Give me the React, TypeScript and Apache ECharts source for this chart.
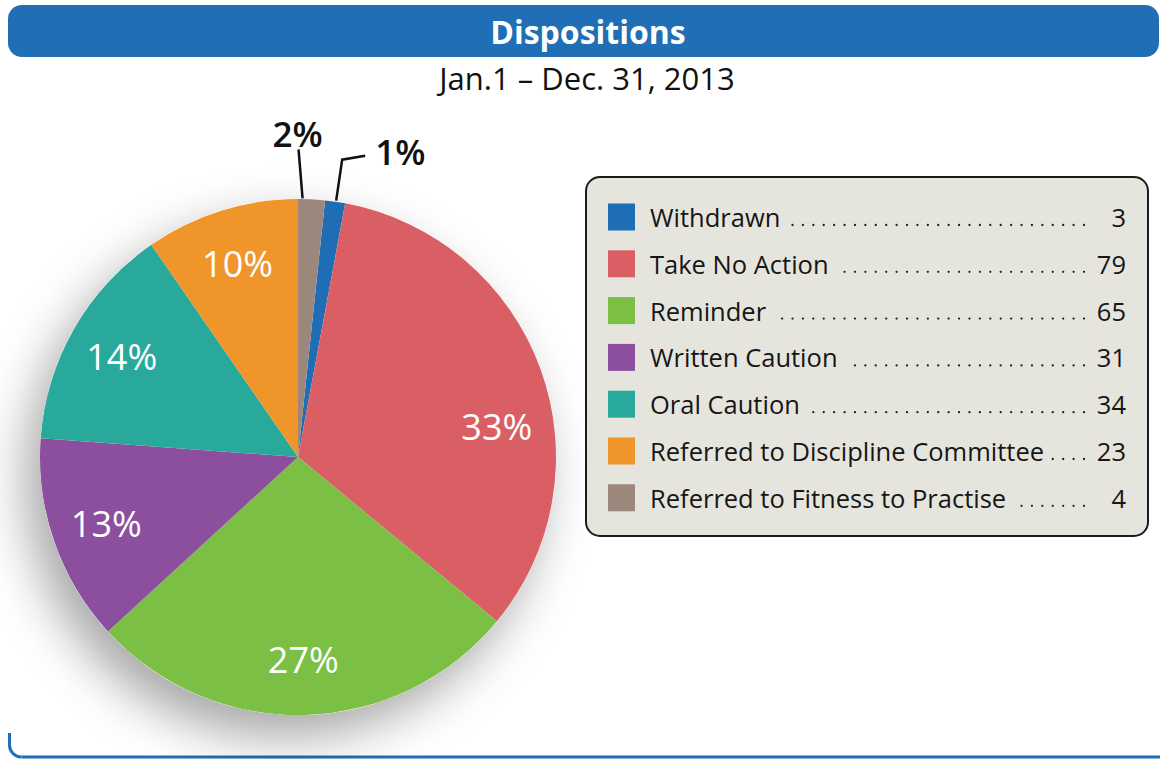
import React, { useEffect, useRef } from "react";
import * as echarts from "echarts";

const title = "Dispositions";
const subtitle = "Jan.1 – Dec. 31, 2013";
const categories = [
  "Withdrawn",
  "Take No Action",
  "Reminder",
  "Written Caution",
  "Oral Caution",
  "Referred to Discipline Committee",
  "Referred to Fitness to Practise",
];
const counts = [3, 79, 65, 31, 34, 23, 4];
const colors = ["#1f6db5", "#d95f65", "#7bc045", "#8b4f9e", "#29a99c", "#f0952a", "#9b877b"];

const FONT = "'Open Sans', Lato, sans-serif";

function measure(text: string, font: string): number {
  const c = document.createElement("canvas").getContext("2d");
  if (!c) return text.length * 12;
  c.font = font;
  return c.measureText(text).width;
}

export default function App() {
  const ref = useRef<HTMLDivElement>(null);
  useEffect(() => {
    if (!ref.current) return;
    const chart = echarts.init(ref.current, null, { renderer: "svg" });
    const total = counts.reduce((a, b) => a + b, 0);
    const startAngle = 90 - (360 * counts[counts.length - 1]) / total;
    const center = [298, 457];
    const R = 258;

    const legendFontSize = 25.5;
    const legendFont = `${legendFontSize}px ${FONT}`;
    const rowY0 = 217;
    const rowStep = 46.8;
    const graphics: any[] = [
      {
        type: "rect",
        shape: { x: 8, y: 5, width: 1151, height: 52, r: 14 },
        style: { fill: "#206eb6" },
      },
      {
        type: "text",
        x: 588,
        y: 31,
        style: {
          text: title,
          fill: "#fff",
          font: `bold 32px ${FONT}`,
          align: "center",
          verticalAlign: "middle",
        },
      },
      {
        type: "text",
        x: 587,
        y: 78,
        style: {
          text: subtitle,
          fill: "#111",
          font: `31px ${FONT}`,
          align: "center",
          verticalAlign: "middle",
        },
      },
      {
        type: "rect",
        shape: { x: 586, y: 177, width: 562, height: 359, r: 14 },
        style: { fill: "#e6e5dd", stroke: "#1b1b1b", lineWidth: 2 },
      },
      {
        type: "line",
        shape: { x1: 9.5, y1: 733, x2: 9.5, y2: 745 },
        style: { stroke: "#206eb6", lineWidth: 3 },
      },
      {
        type: "arc",
        shape: { cx: 21.5, cy: 745, r: 12, startAngle: Math.PI / 2, endAngle: Math.PI, clockwise: true },
        style: { stroke: "#206eb6", lineWidth: 3, fill: "none" },
      },
      {
        type: "line",
        shape: { x1: 21.5, y1: 757, x2: 1160, y2: 757 },
        style: { stroke: "#206eb6", lineWidth: 3 },
      },
    ];

    categories.forEach((name, i) => {
      const cy = rowY0 + i * rowStep;
      const tw = measure(name, legendFont);
      graphics.push(
        {
          type: "rect",
          shape: { x: 608, y: cy - 13.5, width: 27, height: 27 },
          style: { fill: colors[i] },
        },
        {
          type: "text",
          x: 650,
          y: cy,
          style: {
            text: name,
            fill: "#161616",
            font: legendFont,
            align: "left",
            verticalAlign: "middle",
          },
        },
        {
          type: "text",
          x: 1126,
          y: cy,
          style: {
            text: String(counts[i]),
            fill: "#161616",
            font: legendFont,
            align: "right",
            verticalAlign: "middle",
          },
        },
        {
          type: "line",
          shape: { x1: 1084, y1: cy + 8, x2: 650 + tw + 8, y2: cy + 8 },
          style: { stroke: "#222", lineWidth: 2.3, lineDash: [0.01, 10.4], lineCap: "round" },
        }
      );
    });

    const isSmall = (v: number) => v / total < 0.03;

    const labelData = categories.map((name, i) => {
      const small = isSmall(counts[i]);
      return {
        name,
        value: counts[i],
        itemStyle: { color: "rgba(0,0,0,0)" },
        label: small
          ? {
              show: true,
              position: "outside",
              color: "#111",
              fontSize: 35,
              fontWeight: 600,
              fontFamily: FONT,
            }
          : {
              show: true,
              position: "inside",
              color: "#fff",
              fontSize: 36,
              fontFamily: FONT,
              offset: i === 1 ? [8, 39] : [0, 0],
            },
        labelLine: small
          ? { show: true, lineStyle: { color: "#111", width: 2.5 } }
          : { show: false },
      };
    });

    chart.setOption({
      animation: false,
      graphic: graphics,
      series: [
        {
          type: "pie",
          silent: true,
          center,
          radius: R,
          startAngle,
          data: [{ value: total, name: "all" }],
          label: { show: false },
          labelLine: { show: false },
          itemStyle: {
            color: "#ffffff",
            shadowBlur: 50,
            shadowColor: "rgba(0,0,0,0.35)",
            shadowOffsetX: -14,
            shadowOffsetY: 22,
          },
        },
        {
          type: "pie",
          center,
          radius: R,
          startAngle,
          clockwise: true,
          data: categories.map((name, i) => ({
            name,
            value: counts[i],
            itemStyle: { color: colors[i] },
          })),
          label: { show: false },
          labelLine: { show: false },
          itemStyle: { borderWidth: 0 },
        },
        {
          type: "pie",
          silent: true,
          center,
          radius: [142, R],
          startAngle,
          clockwise: true,
          data: labelData,
          label: {
            formatter: (p: any) => `${Math.round(p.percent)}%`,
          },
          labelLayout: (params: any) => {
            const i = params.dataIndex;
            if (!isSmall(counts[i]) || !params.labelLinePoints) return {};
            const p = params.labelLinePoints[0];
            if (i === counts.length - 1) {
              return {
                x: p[0] - 14,
                y: p[1] - 66,
                align: "center",
                verticalAlign: "middle",
                labelLinePoints: [
                  [p[0] - 9, p[1] - 1],
                  [p[0] - 13, p[1] - 50],
                  [p[0] - 13, p[1] - 50],
                ],
              };
            }
            return {
              x: p[0] + 40,
              y: p[1] - 50,
              align: "left",
              verticalAlign: "middle",
              labelLinePoints: [
                [p[0] + 1, p[1] - 1],
                [p[0] + 7, p[1] - 42],
                [p[0] + 30, p[1] - 46],
              ],
            };
          },
        },
      ],
    });
    return () => chart.dispose();
  }, []);
  return (
    <div
      ref={ref}
      style={{ position: "absolute", left: 0, top: 0, width: 1160, height: 759, background: "#fff" }}
    />
  );
}
